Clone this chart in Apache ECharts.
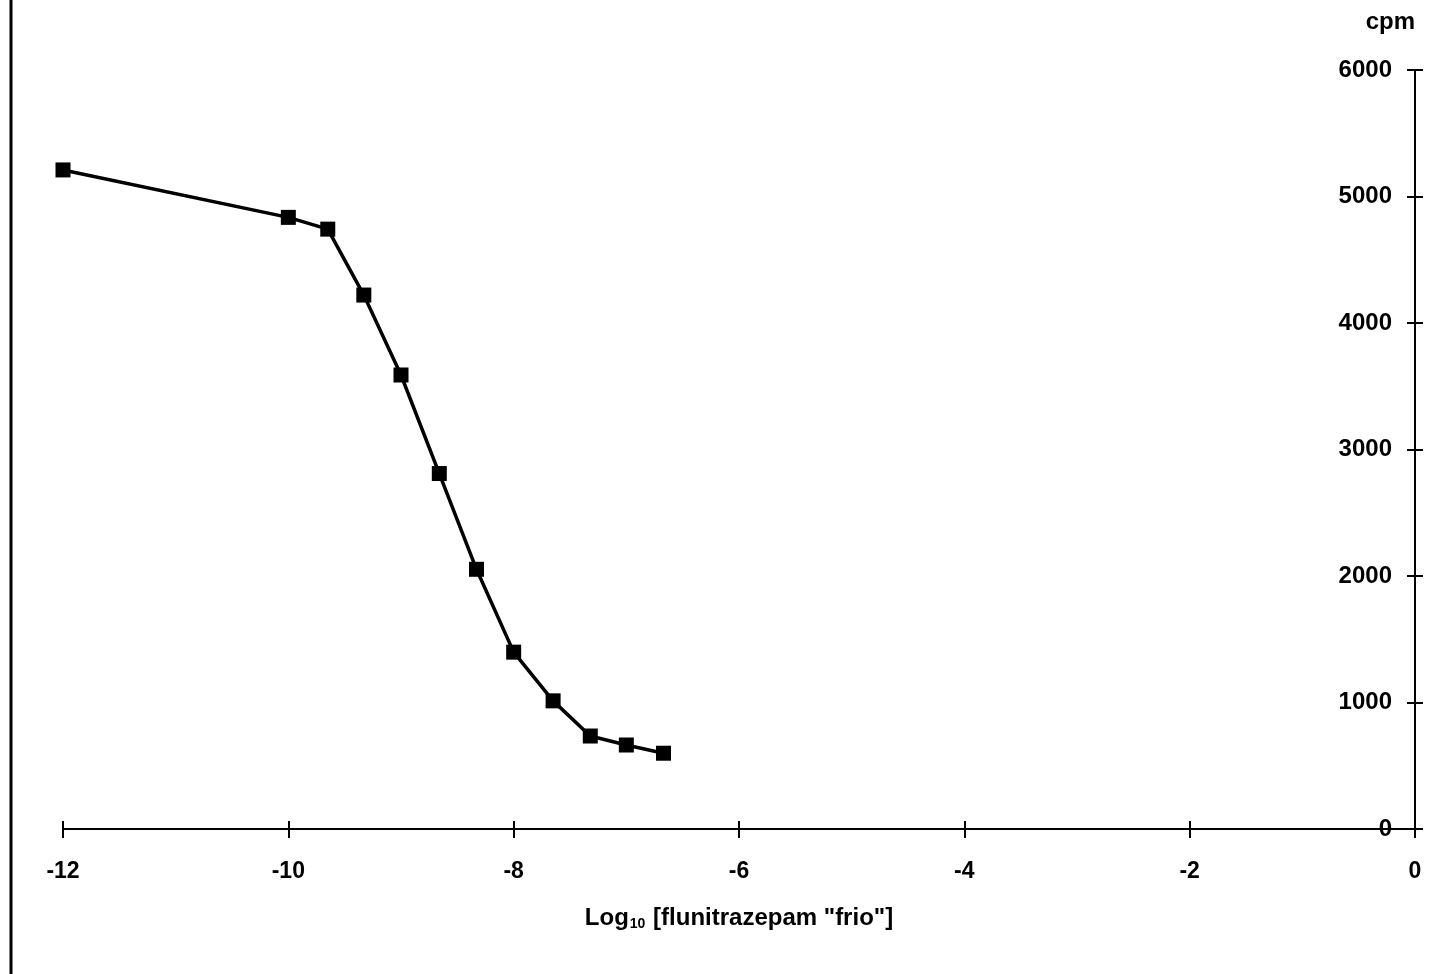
<!DOCTYPE html>
<html>
<head>
<meta charset="utf-8">
<script src="https://cdn.jsdelivr.net/npm/echarts@6/dist/echarts.min.js"></script>
<style>
html,body{margin:0;padding:0;background:#fff;}
#chart{width:1453px;height:974px;}
</style>
</head>
<body>
<div id="chart"></div>
<script>
// Log10 concentration of "cold" flunitrazepam
const logConc = [-12, -10, -9.65, -9.33, -9.0, -8.66, -8.33, -8.0, -7.65, -7.32, -7.0, -6.67];
// bound radioactivity, cpm
const cpm = [5210, 4835, 4742, 4221, 3589, 2810, 2053, 1398, 1013, 735, 664, 599];
const xTicks = [-12, -10, -8, -6, -4, -2, 0];
const yTicks = [0, 1000, 2000, 3000, 4000, 5000, 6000];

const font = 'Liberation Sans, Arial, sans-serif';
const chart = echarts.init(document.getElementById('chart'));
const points = logConc.map((x, i) => [x, cpm[i]]);

const xBase = {
  type: 'value', min: xTicks[0], max: xTicks[xTicks.length - 1], interval: 2,
  position: 'bottom', splitLine: {show: false}
};
const yBase = {
  type: 'value', min: yTicks[0], max: yTicks[yTicks.length - 1], interval: 1000,
  position: 'right', splitLine: {show: false}
};

chart.setOption({
  animation: false,
  backgroundColor: '#ffffff',
  grid: {left: 63, right: 38, top: 70, bottom: 145},
  xAxis: [
    Object.assign({}, xBase, {
      axisLine: {show: true, lineStyle: {color: '#000', width: 2}},
      axisTick: {show: true, inside: false, length: 9, lineStyle: {color: '#000', width: 2}},
      axisLabel: {show: true, margin: 31, color: '#000', fontFamily: font, fontWeight: 'bold', fontSize: 23,
        formatter: v => String(v)},
      name: '{a|Log}{s|10}{a| [flunitrazepam "frio"]}',
      nameLocation: 'middle', nameGap: 76,
      nameTextStyle: {
        color: '#000',
        rich: {
          a: {fontFamily: font, fontWeight: 'bold', fontSize: 24, color: '#000', lineHeight: 26},
          s: {fontFamily: font, fontWeight: 'bold', fontSize: 14, color: '#000', lineHeight: 26, verticalAlign: 'bottom', padding: [8, 1, 0, 1]}
        }
      }
    }),
    Object.assign({}, xBase, {
      axisLine: {show: false},
      axisTick: {show: true, inside: true, length: 8, lineStyle: {color: '#000', width: 2}},
      axisLabel: {show: false}
    })
  ],
  yAxis: [
    Object.assign({}, yBase, {
      axisLine: {show: true, lineStyle: {color: '#000', width: 2}},
      axisTick: {show: true, inside: false, length: 8, lineStyle: {color: '#000', width: 2}},
      axisLabel: {show: true, inside: true, margin: 23, color: '#000', fontFamily: font, fontWeight: 'bold', fontSize: 24,
        formatter: v => String(v)},
      name: 'cpm', nameLocation: 'end', nameGap: 48,
      nameTextStyle: {color: '#000', fontFamily: font, fontWeight: 'bold', fontSize: 24, align: 'right', verticalAlign: 'middle'}
    }),
    Object.assign({}, yBase, {
      axisLine: {show: false},
      axisTick: {show: true, inside: true, length: 8, lineStyle: {color: '#000', width: 2}},
      axisLabel: {show: false}
    })
  ],
  graphic: [
    {type: 'line', shape: {x1: 11, y1: 0, x2: 11, y2: 974}, style: {stroke: '#000', lineWidth: 3}}
  ],
  series: [{
    type: 'line',
    xAxisIndex: 0, yAxisIndex: 0,
    data: points,
    symbol: 'rect', symbolSize: 15,
    lineStyle: {color: '#000', width: 3.5},
    itemStyle: {color: '#000'}
  }]
});
</script>
</body>
</html>
